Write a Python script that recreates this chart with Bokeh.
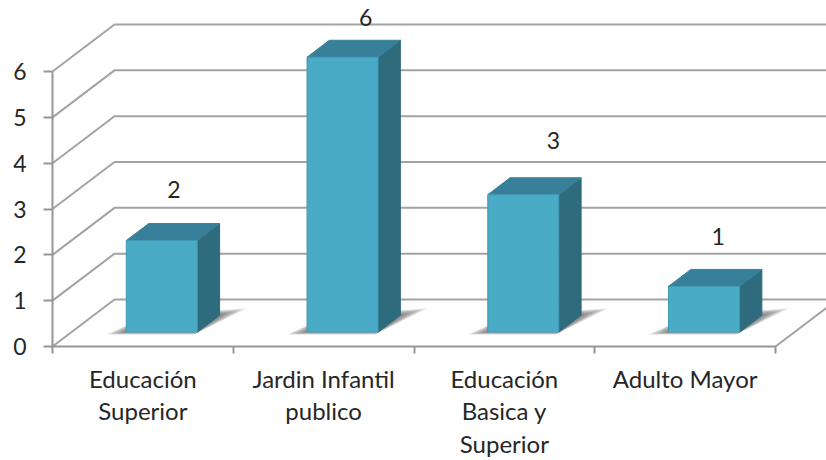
from bokeh.plotting import figure
from bokeh.models import Range1d, LinearAxis, FixedTicker
from bokeh.embed import file_html
from bokeh.resources import INLINE
from bokeh.core.properties import value

categories = ["Educación\nSuperior", "Jardin Infantil\npublico", "Educación\nBasica y\nSuperior", "Adulto Mayor"]
values = [2, 6, 3, 1]
y_ticks = [0, 1, 2, 3, 4, 5, 6]
label_nudge_x_px = [0, 11, 18, 2]
label_nudge_y_px = [0, 0, -3, 1]

FONT = "Lato"
GRID = "#a3a3a3"
AXIS = "#969696"
INK = "#262626"
FRONT, TOP, SIDE = "#4aabc6", "#38809a", "#2e6b7d"

# chart geometry (page pixels per unit, used only to set the ranges)
PX_X, PX_Y = 180.75, 45.83
X0, Y0 = 52, 346
W, H = 826, 460
DX, DY = 62 / PX_X, 47 / PX_Y        # the depth of the 3D box in data units
BAR_W = 71 / PX_X
D_FRONT, D_BACK = 0.305, 0.665       # bar depth inside the box
X_END = 6.0

p = figure(width=W, height=H, output_backend="svg", toolbar_location=None,
           x_range=Range1d(-X0 / PX_X, (W - X0) / PX_X),
           y_range=Range1d((Y0 - H) / PX_Y, Y0 / PX_Y),
           x_axis_type=None, y_axis_type=None, min_border=0,
           min_border_left=0, min_border_right=0, min_border_top=0, min_border_bottom=0)
p.grid.visible = False
p.outline_line_color = None
p.background_fill_color = "white"


def pr(x, v, d):
    return x + d * DX, v + d * DY


# walls: gridlines run from the front edge back, then along the back wall
for v in y_ticks:
    a, b = pr(0, v, 0), pr(0, v, 1)
    p.line([a[0], b[0], X_END], [a[1], b[1], b[1]], line_color=GRID, line_width=2)

# floor right edge
n = len(categories)
a, b = pr(n, 0, 0), pr(n, 0, 1)
p.line([a[0], b[0]], [a[1], b[1]], line_color=GRID, line_width=2)

# bars
xs_shadow, ys_shadow = [], []
for i, v in enumerate(values):
    c = i + 0.5
    l, r = c - BAR_W / 2, c + BAR_W / 2
    # floor shadow, built of nested translucent layers
    for k in range(7):
        t = k / 7
        f0 = pr(l - (17 / PX_X) * (1 - t), 0, D_FRONT - 0.05 * (1 - t))
        f1 = pr(r, 0, D_FRONT - 0.05 * (1 - t))
        b1 = pr(r + (18 / PX_X) * (1 - t), 0, D_BACK + 0.15 * (1 - t))
        b0 = pr(l, 0, D_BACK)
        xs_shadow.append([f0[0], f1[0], b1[0], b0[0]])
        ys_shadow.append([f0[1], f1[1], b1[1], b0[1]])
p.patches(xs_shadow, ys_shadow, fill_color="#404040", fill_alpha=0.12, line_color=None)

for i, v in enumerate(values):
    c = i + 0.5
    l, r = c - BAR_W / 2, c + BAR_W / 2
    fl0, fr0 = pr(l, 0, D_FRONT), pr(r, 0, D_FRONT)
    fl1, fr1 = pr(l, v, D_FRONT), pr(r, v, D_FRONT)
    bl1, br1 = pr(l, v, D_BACK), pr(r, v, D_BACK)
    br0 = pr(r, 0, D_BACK)
    p.patch([fr0[0], fr1[0], br1[0], br0[0]], [fr0[1], fr1[1], br1[1], br0[1]],
            fill_color=SIDE, line_color=SIDE, line_width=1, line_join="round")
    p.patch([fl1[0], fr1[0], br1[0], bl1[0]], [fl1[1], fr1[1], br1[1], bl1[1]],
            fill_color=TOP, line_color=TOP, line_width=1, line_join="round")
    p.patch([fl0[0], fr0[0], fr1[0], fl1[0]], [fl0[1], fr0[1], fr1[1], fl1[1]],
            fill_color=FRONT, line_color="#3f97b0", line_width=1, line_join="round")
    p.line([fl0[0], fr0[0]], [fl0[1], fr0[1]], line_color="#6f9fae", line_width=1.5)

# value labels
LABEL_GAP, LABEL_CAP = 1.43, 7.18
p.text([i + 0.5 + (31 + label_nudge_x_px[i]) / PX_X for i in range(n)],
       [min(v + LABEL_GAP, LABEL_CAP) - label_nudge_y_px[i] / PX_Y for i, v in enumerate(values)],
       text=[str(v) for v in values],
       text_font=value(FONT), text_font_size="23px", text_color=INK,
       text_align="center", text_baseline="middle")

# axes
yax = LinearAxis(fixed_location=0, bounds=(0, 6), ticker=FixedTicker(ticks=y_ticks),
                 axis_line_color=AXIS, axis_line_width=2,
                 major_tick_line_color=AXIS, major_tick_line_width=2,
                 major_tick_in=0, major_tick_out=9, minor_tick_line_color=None,
                 major_label_text_font=FONT, major_label_text_font_size="23px",
                 major_label_text_color=INK, major_label_standoff=17)
p.add_layout(yax, "left")

xax = LinearAxis(fixed_location=0, bounds=(0, n),
                 ticker=FixedTicker(ticks=[i + 0.5 for i in range(n)], minor_ticks=list(range(n + 1))),
                 major_label_overrides={i + 0.5: t for i, t in enumerate(categories)},
                 axis_line_color=AXIS, axis_line_width=2,
                 major_tick_line_color=None, major_tick_in=0, major_tick_out=0,
                 minor_tick_line_color=AXIS, minor_tick_line_width=2,
                 minor_tick_in=0, minor_tick_out=7,
                 major_label_text_font=FONT, major_label_text_font_size="24px",
                 major_label_text_color=INK, major_label_text_line_height=1.13,
                 major_label_standoff=10)
p.add_layout(xax, "below")

open("out.html", "w").write(file_html(p, INLINE))
